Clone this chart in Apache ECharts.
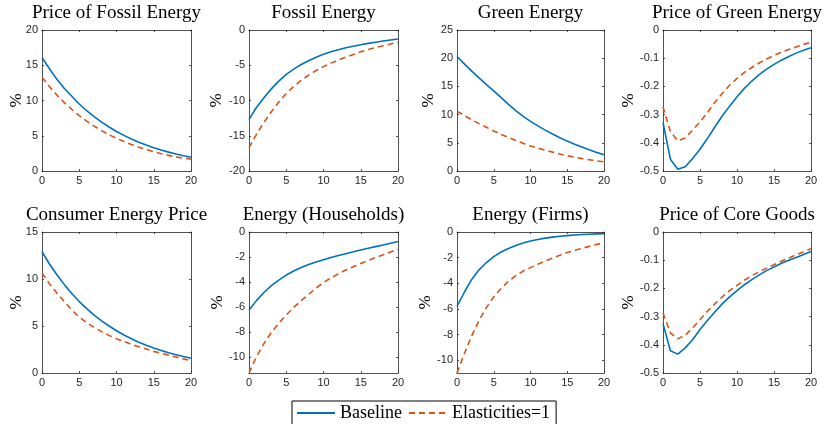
<!DOCTYPE html>
<html>
<head>
<meta charset="utf-8">
<script src="https://cdn.jsdelivr.net/npm/echarts@6/dist/echarts.min.js"></script>
<style>html,body{margin:0;padding:0;background:#fff}#c{width:825px;height:424px}</style>
</head>
<body>
<div id="c"></div>
<script>
// ---- data ----
const periods = [0,1,2,3,4,5,6,7,8,9,10,11,12,13,14,15,16,17,18,19,20];
const seriesNames = ['Baseline', 'Elasticities=1'];
const panelTitles = ['Price of Fossil Energy','Fossil Energy','Green Energy','Price of Green Energy',
                     'Consumer Energy Price','Energy (Households)','Energy (Firms)','Price of Core Goods'];

const fossilPriceBase  = [16.1,14.5,13.0,11.7,10.6,9.5,8.55,7.7,6.93,6.24,5.61,5.05,4.55,4.09,3.68,3.31,2.98,2.68,2.42,2.17,1.96];
const fossilPriceElast = [13.3,11.97,10.77,9.7,8.73,7.85,7.07,6.36,5.73,5.15,4.64,4.17,3.76,3.38,3.04,2.74,2.46,2.22,2.0,1.82,1.66];

const fossilBase  = [-12.67,-11.0,-9.6,-8.35,-7.25,-6.3,-5.55,-4.9,-4.35,-3.88,-3.45,-3.1,-2.8,-2.53,-2.3,-2.1,-1.9,-1.73,-1.57,-1.42,-1.28];
const fossilElast = [-16.7,-14.8,-13.1,-11.6,-10.2,-9.0,-8.0,-7.15,-6.4,-5.75,-5.2,-4.7,-4.25,-3.85,-3.47,-3.1,-2.78,-2.5,-2.23,-1.98,-1.75];

const greenBase  = [20.3,19.0,17.7,16.5,15.3,14.2,13.0,11.8,10.7,9.7,8.8,8.0,7.25,6.55,5.9,5.3,4.75,4.25,3.75,3.3,2.9];
const greenElast = [10.6,9.85,9.1,8.4,7.75,7.1,6.5,5.95,5.4,4.9,4.45,4.05,3.7,3.35,3.0,2.7,2.45,2.2,2.0,1.8,1.62];

const greenPriceBase  = [-0.328,-0.458,-0.494,-0.485,-0.456,-0.423,-0.385,-0.344,-0.305,-0.27,-0.237,-0.207,-0.181,-0.158,-0.139,-0.122,-0.107,-0.094,-0.082,-0.072,-0.063];
const greenPriceElast = [-0.272,-0.36,-0.393,-0.383,-0.355,-0.326,-0.293,-0.257,-0.225,-0.196,-0.172,-0.15,-0.133,-0.117,-0.103,-0.09,-0.079,-0.069,-0.06,-0.051,-0.043];

const consumerPriceBase  = [12.9,11.6,10.45,9.4,8.45,7.6,6.85,6.15,5.55,5.0,4.5,4.05,3.65,3.28,2.95,2.65,2.4,2.15,1.95,1.75,1.57];
const consumerPriceElast = [10.65,9.5,8.5,7.6,6.7,5.95,5.35,4.85,4.4,4.0,3.65,3.35,3.05,2.8,2.55,2.3,2.1,1.9,1.7,1.5,1.32];

const householdBase  = [-6.27,-5.5,-4.85,-4.3,-3.85,-3.45,-3.12,-2.84,-2.6,-2.4,-2.22,-2.05,-1.89,-1.74,-1.59,-1.45,-1.31,-1.17,-1.04,-0.9,-0.76];
const householdElast = [-11.3,-10.0,-8.95,-8.05,-7.3,-6.65,-6.05,-5.5,-5.0,-4.5,-4.05,-3.68,-3.35,-3.05,-2.78,-2.52,-2.28,-2.05,-1.83,-1.6,-1.38];

const firmBase  = [-5.8,-4.7,-3.7,-2.95,-2.38,-1.92,-1.56,-1.28,-1.05,-0.86,-0.7,-0.58,-0.48,-0.4,-0.33,-0.28,-0.24,-0.2,-0.17,-0.15,-0.13];
const firmElast = [-11.0,-9.5,-8.1,-6.9,-5.9,-5.05,-4.4,-3.85,-3.4,-3.05,-2.78,-2.52,-2.27,-2.03,-1.81,-1.6,-1.43,-1.27,-1.12,-0.97,-0.83];

const coreBase  = [-0.325,-0.421,-0.433,-0.411,-0.382,-0.346,-0.314,-0.284,-0.255,-0.23,-0.208,-0.187,-0.169,-0.152,-0.137,-0.124,-0.111,-0.1,-0.09,-0.08,-0.069];
const coreElast = [-0.287,-0.358,-0.379,-0.366,-0.34,-0.311,-0.281,-0.255,-0.23,-0.208,-0.189,-0.171,-0.155,-0.141,-0.128,-0.116,-0.104,-0.092,-0.081,-0.071,-0.059];

const xTicks = [0,5,10,15,20];
const yTicks = [
  [0,5,10,15,20],
  [-20,-15,-10,-5,0],
  [0,5,10,15,20,25],
  [-0.5,-0.4,-0.3,-0.2,-0.1,0],
  [0,5,10,15],
  [-10,-8,-6,-4,-2,0],
  [-10,-8,-6,-4,-2,0],
  [-0.5,-0.4,-0.3,-0.2,-0.1,0]
];
const yRanges = [[0,20],[-20,0],[0,25],[-0.5,0],[0,15],[-11.3,0],[-11,0],[-0.5,0]];
const baseSeries  = [fossilPriceBase, fossilBase, greenBase, greenPriceBase, consumerPriceBase, householdBase, firmBase, coreBase];
const elastSeries = [fossilPriceElast, fossilElast, greenElast, greenPriceElast, consumerPriceElast, householdElast, firmElast, coreElast];

// ---- layout ----
const colLeft = [42, 249, 457, 663];
const colWidth = [149, 149, 147, 148];
const rowTop = [30, 232];
const plotH = 141;
const nameGaps = [17, 24, 20, 26, 17, 23, 23, 26];

const AX = '#262626';
const serif = '"Liberation Serif", "Times New Roman", serif';
const sans = '"Liberation Sans", Arial, sans-serif';

const grids = [], xAxes = [], yAxes = [], series = [], titles = [];
for (let i = 0; i < 8; i++) {
  const r = Math.floor(i / 4), c = i % 4;
  grids.push({ left: colLeft[c], top: rowTop[r], width: colWidth[c], height: plotH,
               containLabel: false, outerBoundsMode: 'none' });
  titles.push({ text: panelTitles[i], left: colLeft[c] + colWidth[c] / 2, top: rowTop[r] - 26,
                textAlign: 'center', padding: 0,
                textStyle: { fontFamily: serif, fontSize: 19, fontWeight: 'normal', color: '#000' } });
  const lineS = { show: true, onZero: false, lineStyle: { color: AX, width: 0.8 } };
  const tickS = { show: true, inside: true, length: 2, lineStyle: { color: AX, width: 0.8 } };
  xAxes.push({ type: 'value', gridIndex: i, position: 'bottom', min: 0, max: 20, interval: 5,
               axisLine: lineS, axisTick: tickS, splitLine: { show: false },
               axisLabel: { show: true, color: AX, fontFamily: sans, fontSize: 11, margin: 4 } });
  xAxes.push({ type: 'value', gridIndex: i, position: 'top', min: 0, max: 20, interval: 5,
               axisLine: lineS, axisTick: tickS, splitLine: { show: false }, axisLabel: { show: false } });
  yAxes.push({ type: 'value', gridIndex: i, position: 'left', min: yRanges[i][0], max: yRanges[i][1],
               name: '%', nameLocation: 'middle', nameGap: nameGaps[i], nameRotate: 90,
               nameMoveOverlap: false,
               nameTextStyle: { fontFamily: serif, fontSize: 17, color: '#000' },
               axisLine: lineS, axisTick: Object.assign({ customValues: yTicks[i] }, tickS),
               splitLine: { show: false },
               axisLabel: { show: true, customValues: yTicks[i], color: AX, fontFamily: sans, fontSize: 11, margin: 4 } });
  yAxes.push({ type: 'value', gridIndex: i, position: 'right', min: yRanges[i][0], max: yRanges[i][1],
               axisLine: lineS, axisTick: Object.assign({ customValues: yTicks[i] }, tickS),
               splitLine: { show: false }, axisLabel: { show: false } });
  series.push({ type: 'line', name: seriesNames[0], xAxisIndex: 2 * i, yAxisIndex: 2 * i,
                data: periods.map((t, k) => [t, baseSeries[i][k]]),
                symbol: 'none', smooth: false, silent: true,
                lineStyle: { color: '#0072BD', width: 1.6 }, itemStyle: { color: '#0072BD' } });
  series.push({ type: 'line', name: seriesNames[1], xAxisIndex: 2 * i, yAxisIndex: 2 * i,
                data: periods.map((t, k) => [t, elastSeries[i][k]]),
                symbol: 'none', smooth: false, silent: true,
                lineStyle: { color: '#D95319', width: 1.6, type: [6, 4] }, itemStyle: { color: '#D95319' } });
}

const chart = echarts.init(document.getElementById('c'), null, { renderer: 'canvas' });
chart.setOption({
  backgroundColor: '#fff',
  animation: false,
  title: titles,
  grid: grids,
  xAxis: xAxes,
  yAxis: yAxes,
  series: series,
  legend: {
    data: seriesNames,
    left: 292, top: 401,
    orient: 'horizontal',
    itemWidth: 38, itemHeight: 14, itemGap: 6,
    padding: [2, 6, 2, 4],
    borderColor: '#000', borderWidth: 1, backgroundColor: '#fff',
    itemStyle: { opacity: 0 },
    selectedMode: false,
    textStyle: { fontFamily: serif, fontSize: 18, color: '#000', lineHeight: 20 }
  }
});
</script>
</body>
</html>
